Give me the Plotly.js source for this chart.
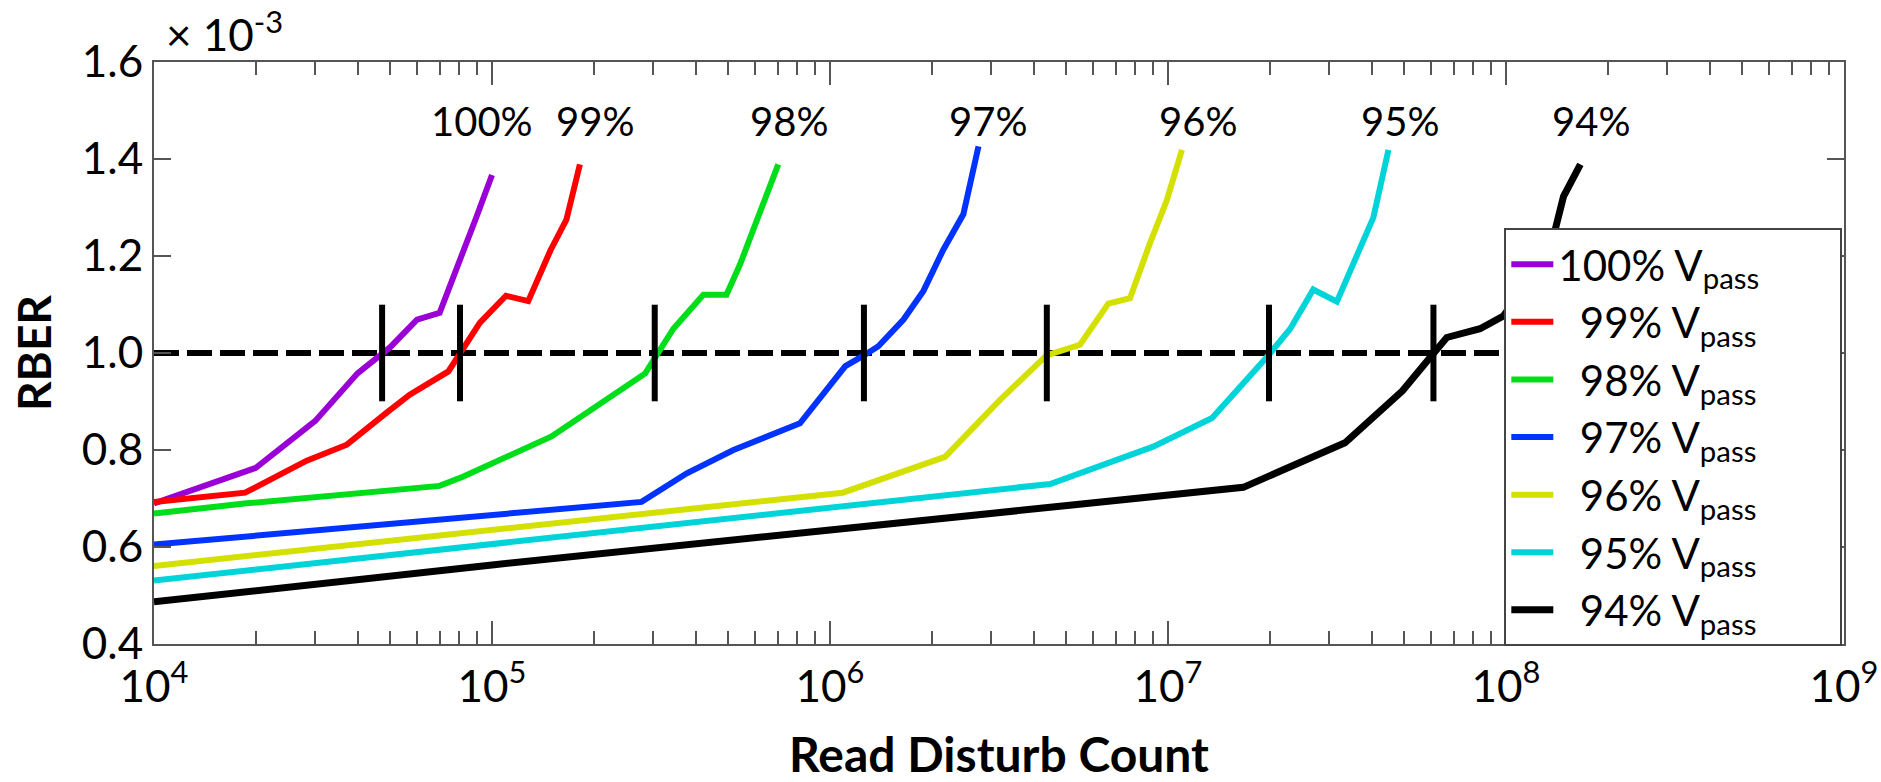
<!DOCTYPE html>
<html>
<head>
<meta charset="utf-8">
<script src="https://cdn.plot.ly/plotly-3.0.1.min.js"></script>
<style>
html,body{margin:0;padding:0;background:#ffffff;}
#chart{width:1881px;height:782px;}
</style>
</head>
<body>
<div id="chart"></div>
<script>
// ---- data (RBER in units of 1e-3) ----
const PAD = "\u00a0\u00a0\u00a0\u00a0\u00a0\u00a0\u00a0\u200b";
const seriesNames = ["100% V<sub>pass</sub>" + PAD, "\u00a0\u00a099% V<sub>pass</sub>" + PAD, "\u00a0\u00a098% V<sub>pass</sub>" + PAD,
  "\u00a0\u00a097% V<sub>pass</sub>" + PAD, "\u00a0\u00a096% V<sub>pass</sub>" + PAD, "\u00a0\u00a095% V<sub>pass</sub>" + PAD, "\u00a0\u00a094% V<sub>pass</sub>" + PAD];

const x100 = [1e4, 2e4, 3e4, 4e4, 5e4, 6e4, 7e4, 8e4, 9e4, 1e5];
const y100 = [0.690, 0.763, 0.860, 0.958, 1.012, 1.069, 1.083, 1.186, 1.281, 1.367];

const x99 = [1e4, 1.86e4, 2.83e4, 3.72e4, 4.88e4, 5.71e4, 7.43e4, 7.8e4, 9.2e4, 1.1e5, 1.28e5, 1.49e5, 1.66e5, 1.82e5];
const y99 = [0.693, 0.712, 0.778, 0.811, 0.877, 0.914, 0.962, 0.985, 1.062, 1.118, 1.107, 1.212, 1.275, 1.389];

const x98 = [1e4, 1.88e4, 7.0e4, 8.2e4, 1.5e5, 2.84e5, 3.44e5, 4.22e5, 4.94e5, 5.42e5, 7.03e5];
const y98 = [0.669, 0.690, 0.726, 0.745, 0.828, 0.958, 1.050, 1.120, 1.120, 1.183, 1.389];

const x97 = [1e4, 1e5, 2.77e5, 3.77e5, 5.18e5, 8.15e5, 1.11e6, 1.26e6, 1.39e6, 1.65e6, 1.89e6, 2.16e6, 2.48e6, 2.75e6];
const y97 = [0.605, 0.665, 0.693, 0.752, 0.800, 0.855, 0.973, 0.995, 1.014, 1.069, 1.128, 1.212, 1.286, 1.426];

const x96 = [1e4, 1e5, 1.09e6, 2.19e6, 3.18e6, 4.37e6, 5.49e6, 6.66e6, 7.72e6, 8.85e6, 9.92e6, 1.10e7];
const y96 = [0.561, 0.636, 0.712, 0.786, 0.903, 0.995, 1.017, 1.102, 1.113, 1.227, 1.315, 1.419];

const x95 = [1e4, 1e5, 1e6, 4.48e6, 9.04e6, 1.35e7, 1.98e7, 2.30e7, 2.69e7, 3.16e7, 4.05e7, 4.49e7];
const y95 = [0.531, 0.607, 0.682, 0.730, 0.807, 0.866, 0.995, 1.050, 1.131, 1.106, 1.279, 1.419];

const x94 = [1e4, 1e5, 1e6, 1.67e7, 3.34e7, 4.4e7, 4.94e7, 6.03e7, 6.68e7, 8.38e7, 9.82e7, 1.2e8, 1.40e8, 1.48e8, 1.66e8];
const y94 = [0.487, 0.563, 0.635, 0.723, 0.815, 0.890, 0.922, 0.995, 1.032, 1.050, 1.076, 1.160, 1.256, 1.323, 1.389];

const thresholdRBER = 1.0;
const thresholdX = [1e4, 1e8];
const crossX = [4.73e4, 8.04e4, 3.03e5, 1.26e6, 4.38e6, 1.99e7, 6.10e7];

const curveLabels = ["100%", "99%", "98%", "97%", "96%", "95%", "94%"];
const curveLabelX = [9.33e4, 2.02e5, 7.54e5, 2.94e6, 1.23e7, 4.85e7, 1.78e8];
const curveLabelY = 1.478;

const xTickVals = [1e4, 1e5, 1e6, 1e7, 1e8, 1e9];
const xTickText = ["10<sup>4</sup>", "10<sup>5</sup>", "10<sup>6</sup>", "10<sup>7</sup>", "10<sup>8</sup>", "10<sup>9</sup>"];

// ---- styles ----
const colors = ["#9a00d6", "#ff0000", "#00dd1a", "#0033ff", "#d4e000", "#00d4d8", "#000000"];
const widths = [6, 6, 6, 6, 6, 6, 7];
const FONT = "Lato, 'Open Sans', sans-serif";

const xs = [x100, x99, x98, x97, x96, x95, x94];
const ys = [y100, y99, y98, y97, y96, y95, y94];

const traces = [];
traces.push({
  x: thresholdX, y: thresholdX.map(() => thresholdRBER),
  mode: "lines", line: {color: "#000", width: 6, dash: "25px,8px"},
  showlegend: false, hoverinfo: "skip"
});
for (let i = 0; i < xs.length; i++) {
  traces.push({
    x: xs[i], y: ys[i], name: seriesNames[i], mode: "lines",
    line: {color: colors[i], width: widths[i]}
  });
}
traces.push({
  x: crossX, y: crossX.map(() => thresholdRBER), mode: "markers",
  marker: {symbol: "line-ns", size: 69, color: "#000", line: {color: "#000", width: 6}},
  showlegend: false, hoverinfo: "skip"
});

const annotations = curveLabels.map((t, i) => ({
  x: Math.log10(curveLabelX[i]), y: curveLabelY, xref: "x", yref: "y",
  text: t, showarrow: false, xanchor: "center", yanchor: "middle",
  font: {family: FONT, size: 40, color: "#000"}
}));
annotations.push({
  x: 0.006, y: 1.052, xref: "paper", yref: "paper", xanchor: "left", yanchor: "middle",
  text: "\u00d7 10<sup>-3</sup>", showarrow: false,
  font: {family: FONT, size: 44, color: "#000"}
});

const axisCommon = {
  showline: true, linewidth: 2, linecolor: "#555", mirror: "ticks",
  ticks: "inside", tickwidth: 2, tickcolor: "#555",
  showgrid: false, zeroline: false
};

const layout = {
  width: 1881, height: 782,
  margin: {l: 154, r: 37, t: 62, b: 138},
  paper_bgcolor: "#fff", plot_bgcolor: "#fff",
  font: {family: FONT, color: "#000"},
  showlegend: true,
  legend: {
    x: 0.799, y: 0.714, xanchor: "left", yanchor: "top",
    bgcolor: "#fff", bordercolor: "#444", borderwidth: 2,
    font: {family: FONT, size: 42, color: "#000"},
    itemwidth: 42, tracegroupgap: 0
  },
  xaxis: Object.assign({}, axisCommon, {
    type: "log", range: [4, 9], tickmode: "array", tickvals: xTickVals, ticktext: xTickText,
    ticklen: 23, ticklabelstandoff: 3,
    minor: {ticks: "inside", ticklen: 13, tickwidth: 2, tickcolor: "#555", dtick: "D1", showgrid: false},
    tickfont: {family: FONT, size: 44, color: "#000"},
    title: {text: "<b>Read Disturb Count</b>", font: {family: FONT, size: 48, color: "#000"}}
  }),
  yaxis: Object.assign({}, axisCommon, {
    range: [0.4, 1.6], tick0: 0.4, dtick: 0.2, tickformat: ".1f",
    ticklen: 17,
    tickfont: {family: FONT, size: 44, color: "#000"},
    title: {text: "<b>RBER</b>", font: {family: FONT, size: 46, color: "#000"}}
  }),
  annotations: annotations
};

Plotly.newPlot("chart", traces, layout, {displayModeBar: false, staticPlot: true});
</script>
</body>
</html>
